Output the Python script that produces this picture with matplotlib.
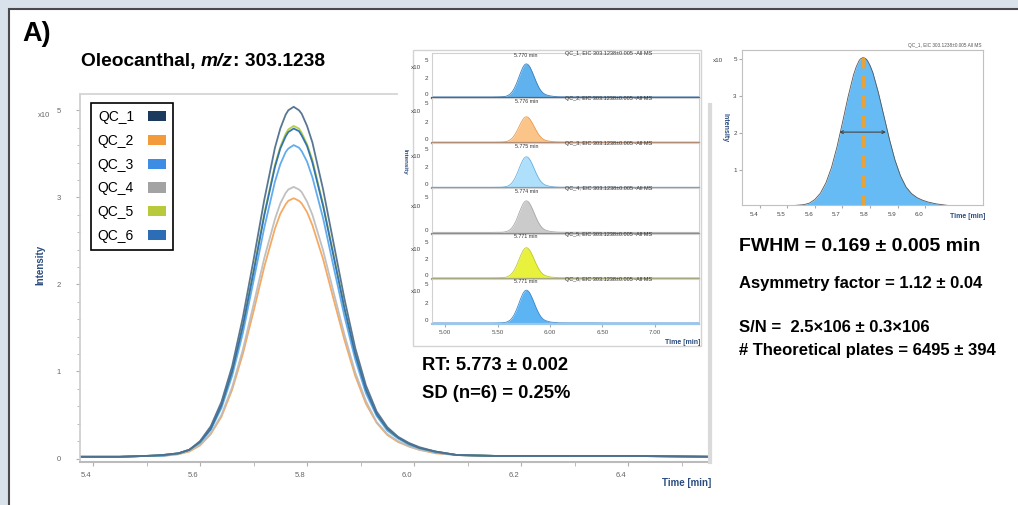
import matplotlib
matplotlib.use("Agg")
import matplotlib.pyplot as plt
import matplotlib.transforms as mtransforms
from matplotlib.patches import Rectangle, Patch
from matplotlib.lines import Line2D

plt.rcParams['font.family'] = ['Liberation Sans', 'DejaVu Sans']

# ---------------- data ----------------
qc_names = ["QC_1", "QC_2", "QC_3", "QC_4", "QC_5", "QC_6"]
time_min = [4.85, 5.38, 5.45, 5.50, 5.53, 5.56, 5.58, 5.60, 5.62, 5.64, 5.66, 5.68,
            5.70, 5.72, 5.74, 5.75, 5.76, 5.765, 5.775, 5.785, 5.79, 5.80, 5.81, 5.83,
            5.85, 5.87, 5.89, 5.91, 5.93, 5.95, 5.97, 5.99, 6.01, 6.04, 6.08, 6.15, 6.25,
            6.40, 6.56, 7.45]
qc1 = [0.02, 0.02, 0.02, 0.03, 0.04, 0.06, 0.10, 0.20, 0.37, 0.65, 1.06, 1.62, 2.28, 2.97,
       3.57, 3.79, 3.95, 4.00, 4.04, 4.00, 3.96, 3.82, 3.63, 3.09, 2.46, 1.83, 1.27, 0.84,
       0.54, 0.36, 0.25, 0.18, 0.13, 0.08, 0.04, 0.03, 0.03, 0.03, 0.02, 0.02]
qc2 = [0.02, 0.02, 0.02, 0.03, 0.03, 0.05, 0.08, 0.15, 0.28, 0.48, 0.79, 1.20, 1.69, 2.20,
       2.64, 2.81, 2.92, 2.96, 2.99, 2.96, 2.93, 2.83, 2.68, 2.29, 1.82, 1.36, 0.95, 0.63,
       0.41, 0.27, 0.19, 0.14, 0.10, 0.06, 0.04, 0.03, 0.03, 0.03, 0.02, 0.02]
qc3 = [0.02, 0.02, 0.02, 0.03, 0.03, 0.06, 0.10, 0.18, 0.33, 0.58, 0.95, 1.44, 2.04, 2.65,
       3.18, 3.38, 3.52, 3.56, 3.60, 3.57, 3.53, 3.41, 3.23, 2.76, 2.19, 1.63, 1.14, 0.75,
       0.49, 0.32, 0.23, 0.16, 0.12, 0.07, 0.04, 0.03, 0.03, 0.03, 0.02, 0.02]
qc4 = [0.02, 0.02, 0.02, 0.03, 0.03, 0.05, 0.09, 0.16, 0.29, 0.50, 0.82, 1.25, 1.77, 2.30,
       2.75, 2.93, 3.05, 3.09, 3.12, 3.09, 3.06, 2.95, 2.80, 2.39, 1.90, 1.42, 0.99, 0.66,
       0.42, 0.28, 0.20, 0.14, 0.10, 0.07, 0.04, 0.03, 0.03, 0.03, 0.02, 0.02]
qc5 = [0.02, 0.02, 0.02, 0.03, 0.04, 0.06, 0.10, 0.19, 0.35, 0.61, 1.00, 1.53, 2.16, 2.81,
       3.37, 3.58, 3.73, 3.78, 3.82, 3.79, 3.74, 3.61, 3.43, 2.92, 2.33, 1.73, 1.21, 0.80,
       0.51, 0.34, 0.24, 0.17, 0.12, 0.08, 0.04, 0.03, 0.03, 0.03, 0.02, 0.02]
qc6 = [0.02, 0.02, 0.02, 0.03, 0.04, 0.06, 0.10, 0.19, 0.34, 0.61, 1.00, 1.52, 2.14, 2.79,
       3.35, 3.56, 3.70, 3.75, 3.79, 3.76, 3.71, 3.59, 3.40, 2.90, 2.31, 1.72, 1.20, 0.79,
       0.51, 0.34, 0.24, 0.17, 0.12, 0.08, 0.04, 0.03, 0.03, 0.03, 0.02, 0.02]
qc_series = [qc1, qc2, qc3, qc4, qc5, qc6]
rt_each = [5.770, 5.776, 5.775, 5.774, 5.771, 5.771]

rt_mean, rt_sd = 5.773, 0.002
rt_rsd = 0.25
fwhm, fwhm_sd = 0.169, 0.005
asym, asym_sd = 1.12, 0.04
sn_text = "2.5×106 ± 0.3×106"
plates, plates_sd = 6495, 394
mz = "303.1238"

main_xticks = [5.4, 5.6, 5.8, 6.0, 6.2, 6.4]
main_yticks = [0, 1, 2, 3, 4]
main_yticklabels = ["0", "1", "2", "3", "5"]
inset_xticks = [5.0, 5.5, 6.0, 6.5, 7.0]
fwhm_xticks = [5.4, 5.5, 5.6, 5.7, 5.8, 5.9, 6.0]

# ---------------- styles ----------------
legend_colors = ["#1c3a5e", "#f39a3a", "#3d8de5", "#a3a3a3", "#b8ca3c", "#2d6db5"]
line_colors = ["#50708f", "#f5a55a", "#5aa8ee", "#bdbdbd", "#b8cc40", "#2c6fb0"]
fill_colors = ["#5fb2ee", "#fbc58a", "#aee0fb", "#cbcbcb", "#e8f23c", "#5cb4f2"]
edge_colors = ["#3a7fc0", "#e99a50", "#6ab0e0", "#aaaaaa", "#c0c830", "#3d8ad0"]
base_colors = ["#55606a", "#b08a70", "#7f9cb8", "#8a8a8a", "#a4a67a", "#9cc6ea"]
panel_top = [5.4, 5.2, 5.2, 4.35, 5.6, 5.1]
NAVY = "#2b4c7e"
GRAY = "#666666"

W, H = 1018, 505
fig = plt.figure(figsize=(W / 100, H / 100), dpi=100, facecolor="#d9e2ea")


def fx(px):
    return px / W


def fy(py):
    return 1 - py / H


def axrect(x0, y0, x1, y1):
    return [x0 / W, 1 - y1 / H, (x1 - x0) / W, (y1 - y0) / H]


def shift(dx, dy):
    return mtransforms.ScaledTranslation(dx / 100, -dy / 100, fig.dpi_scale_trans)


# white panel
fig.patches.append(Rectangle((fx(9), -0.05), 1.1, fy(9) + 0.05, transform=fig.transFigure,
                             facecolor="white", edgecolor="#4a4a4a", lw=1.5, zorder=-5))

# ---------------- main chart ----------------
ax = fig.add_axes(axrect(80, 94, 710, 462), zorder=0)
ax.set_facecolor("none")
order = [1, 3, 2, 4, 5, 0]
for i in order:
    ax.plot(time_min, qc_series[i], color=line_colors[i], lw=1.3, alpha=0.95,
            solid_joinstyle="round")
ax.set_xlim(5.3757, 6.553)
ax.set_ylim(-0.04, 4.187)
ax.set_xticks(main_xticks)
ax.set_xticklabels([f"{v:.1f}" for v in main_xticks])
ax.set_xticks([5.5, 5.7, 5.9, 6.1, 6.3, 6.5], minor=True)
ax.set_yticks(main_yticks)
ax.set_yticklabels(main_yticklabels)
ax.set_yticks([v / 5 for v in range(0, 21)], minor=True)
ax.tick_params(axis="both", which="both", colors="#b0b0b0", labelcolor=GRAY, labelsize=5.5)
ax.tick_params(axis="x", which="major", length=3, pad=4)
ax.tick_params(axis="x", which="minor", length=3)
ax.tick_params(axis="y", which="major", length=3, pad=11)
ax.tick_params(axis="y", which="minor", length=2)
for lab in ax.get_xticklabels():
    lab.set_transform(lab.get_transform() + shift(-7, 0))
for s in ["top", "right"]:
    ax.spines[s].set_visible(False)
ax.spines["left"].set_color("#cccccc")
ax.spines["left"].set_linewidth(1.2)
ax.spines["bottom"].set_color("#bbbbbb")
ax.spines["bottom"].set_linewidth(1.5)
fig.add_artist(Line2D([fx(80), fx(397)], [fy(94), fy(94)], color="#d5d5d5", lw=1.3,
                      transform=fig.transFigure, zorder=0.5))
fig.add_artist(Line2D([fx(710), fx(710)], [fy(105), fy(462)], color="#dadada", lw=3,
                      transform=fig.transFigure, zorder=0.5))
fig.text(fx(44), fy(115.7), "x10", fontsize=5.5, color=GRAY, ha="center", va="center")
fig.text(fx(40), fy(265), "Intensity", rotation=90, fontsize=7, weight="bold", color=NAVY,
         ha="center", va="center")
fig.text(fx(711), fy(483), "Time [min]", fontsize=7, weight="bold", color=NAVY,
         ha="right", va="center")

handles = [Patch(facecolor=c, edgecolor="none") for c in legend_colors]
leg = ax.legend(handles, qc_names, loc="upper left", bbox_to_anchor=(fx(90.7), fy(103.3)),
                bbox_transform=fig.transFigure, markerfirst=False, frameon=True,
                fancybox=False, edgecolor="black", fontsize=10, handlelength=1.3,
                handleheight=0.75, labelspacing=0.7, borderpad=0.5, handletextpad=1.0,
                borderaxespad=0)
leg.get_frame().set_linewidth(1.2)
leg.get_frame().set_alpha(1)

# ---------------- stacked inset ----------------
fig.patches.append(Rectangle((fx(412.7), fy(346)), (701 - 412.7) / W, (346 - 50) / H,
                             transform=fig.transFigure, facecolor="white",
                             edgecolor="#d3d3d3", lw=1.0, zorder=1))
ph = (324 - 52.7) / 6
for i in range(6):
    top = 52.7 + i * ph
    pax = fig.add_axes(axrect(431.7, top, 699, top + ph), zorder=3)
    pax.set_facecolor("white")
    pax.fill_between(time_min, qc_series[i], 0, color=fill_colors[i], lw=0)
    pax.plot(time_min, qc_series[i], color=edge_colors[i], lw=0.6)
    pax.set_xlim(4.873, 7.42)
    pax.set_ylim(-0.1, panel_top[i])
    for s in ["left", "right", "top"]:
        pax.spines[s].set_color("#d0d0d0")
        pax.spines[s].set_linewidth(0.8)
    pax.spines["bottom"].set_color(base_colors[i])
    pax.spines["bottom"].set_linewidth(1.6)
    if i == 3:
        pax.set_yticks([0, 3.2])
        pax.set_yticklabels(["0", "5"])
        xl_y = 2.6
    else:
        pax.set_yticks([0, 2, 4.2])
        pax.set_yticklabels(["0", "2", "5"])
        xl_y = 3.6
    pax.tick_params(axis="y", length=0, pad=2.5, labelsize=4.5, labelcolor="#444444")
    for lab in pax.get_yticklabels():
        lab.set_transform(lab.get_transform() + shift(0, -3))
    if i == 5:
        pax.set_xticks(inset_xticks)
        pax.set_xticklabels([f"{v:.2f}" for v in inset_xticks])
        pax.tick_params(axis="x", length=2, colors="#aaaaaa", labelcolor="#555555",
                        labelsize=4.5, pad=2)
    else:
        pax.set_xticks([])
    tr = mtransforms.blended_transform_factory(pax.transAxes, pax.transData)
    pax.text(-0.059, xl_y, "x10", transform=tr, fontsize=4.5, color="#444444",
             ha="center", va="center")
    pax.text(rt_each[i], 0.93, f"{rt_each[i]:.3f} min",
             transform=mtransforms.blended_transform_factory(pax.transData, pax.transAxes),
             fontsize=3.8, color="#333333", ha="center", va="center")
    pax.text(0.5, 0.99, f"{qc_names[i]}, EIC {mz}±0.005 -All MS", transform=pax.transAxes,
             fontsize=4.0, color="#333333", ha="left", va="center")
fig.text(fx(405), fy(161.7), "Intensity", rotation=270, fontsize=4.5, weight="bold",
         color=NAVY, ha="center", va="center", zorder=4)
fig.text(fx(700), fy(342), "Time [min]", fontsize=5, weight="bold", color=NAVY,
         ha="right", va="center", zorder=4)

# ---------------- FWHM inset ----------------
ax2 = fig.add_axes(axrect(742.3, 50, 982.7, 205), zorder=3)
ax2.fill_between(time_min, qc1, 0, color="#66bbf4", lw=0)
ax2.plot(time_min, qc1, color="#555555", lw=0.6)
peak = max(qc1)
ax2.plot([rt_mean, rt_mean], [0, peak], color="#e8a23a", lw=2.2, ls=(0, (4, 2.5)))
ax2.annotate("", xy=(rt_mean - fwhm / 2, peak / 2), xytext=(rt_mean + fwhm / 2, peak / 2),
             arrowprops=dict(arrowstyle="<->", color="#444444", lw=0.8, mutation_scale=5,
                             shrinkA=0, shrinkB=0))
ax2.set_xlim(5.337, 6.208)
ax2.set_ylim(0.05, 4.24)
ax2.set_xticks(fwhm_xticks)
ax2.set_xticklabels([f"{v:.1f}" for v in fwhm_xticks])
ax2.set_yticks([1, 2, 3, 4])
ax2.set_yticklabels(["1", "2", "3", "5"])
ax2.tick_params(axis="both", length=2, colors="#aaaaaa", labelcolor="#444444", labelsize=4.5,
                pad=3)
ax2.tick_params(axis="y", pad=2)
for lab in ax2.get_xticklabels():
    lab.set_transform(lab.get_transform() + shift(-6, 0))
for s in ax2.spines.values():
    s.set_color("#c0c0c0")
    s.set_linewidth(0.8)
fig.text(fx(718), fy(61), "x10", fontsize=4.5, color="#444444", ha="center", va="center")
fig.text(fx(725), fy(128), "Intensity", rotation=270, fontsize=5, weight="bold", color=NAVY,
         ha="center", va="center")
fig.text(fx(985), fy(217), "Time [min]", fontsize=5, weight="bold", color=NAVY,
         ha="right", va="center")
fig.text(fx(982), fy(46), f"QC_1, EIC {mz}±0.005 All MS", fontsize=3.4, color="#555555",
         ha="right", va="center")

# ---------------- texts ----------------
fig.text(fx(22), fy(34), "A)", fontsize=19.5, weight="bold", va="center", ha="left")
t1 = fig.text(fx(81), fy(61.7), "Oleocanthal, ", fontsize=13.8, weight="bold", va="center")
a2 = fig.add_artist(plt.Annotation("m/z", xy=(1, 0), xycoords=t1, va="bottom", ha="left",
                                   fontsize=13.8, weight="bold", style="italic"))
a3 = fig.add_artist(plt.Annotation(f": {mz}", xy=(1, 0), xycoords=a2, va="bottom",
                                   ha="left", fontsize=13.8, weight="bold"))

fig.text(fx(421.7), fy(366), f"RT: {rt_mean:.3f} ± {rt_sd:.3f}", fontsize=13.2,
         weight="bold", va="center")
fig.text(fx(421.7), fy(393.3), f"SD (n=6) = {rt_rsd:.2f}%", fontsize=13.2, weight="bold",
         va="center")
fig.text(fx(739), fy(246.7), f"FWHM = {fwhm:.3f} ± {fwhm_sd:.3f} min", fontsize=14,
         weight="bold", va="center")
fig.text(fx(739), fy(283.3), f"Asymmetry factor = {asym:.2f} ± {asym_sd:.2f}", fontsize=12,
         weight="bold", va="center")
fig.text(fx(739), fy(327.3), f"S/N =  {sn_text}", fontsize=12, weight="bold", va="center")
fig.text(fx(739), fy(350.7), f"# Theoretical plates = {plates} ± {plates_sd}", fontsize=12,
         weight="bold", va="center")

fig.savefig("out.png", dpi=100, facecolor=fig.get_facecolor())
